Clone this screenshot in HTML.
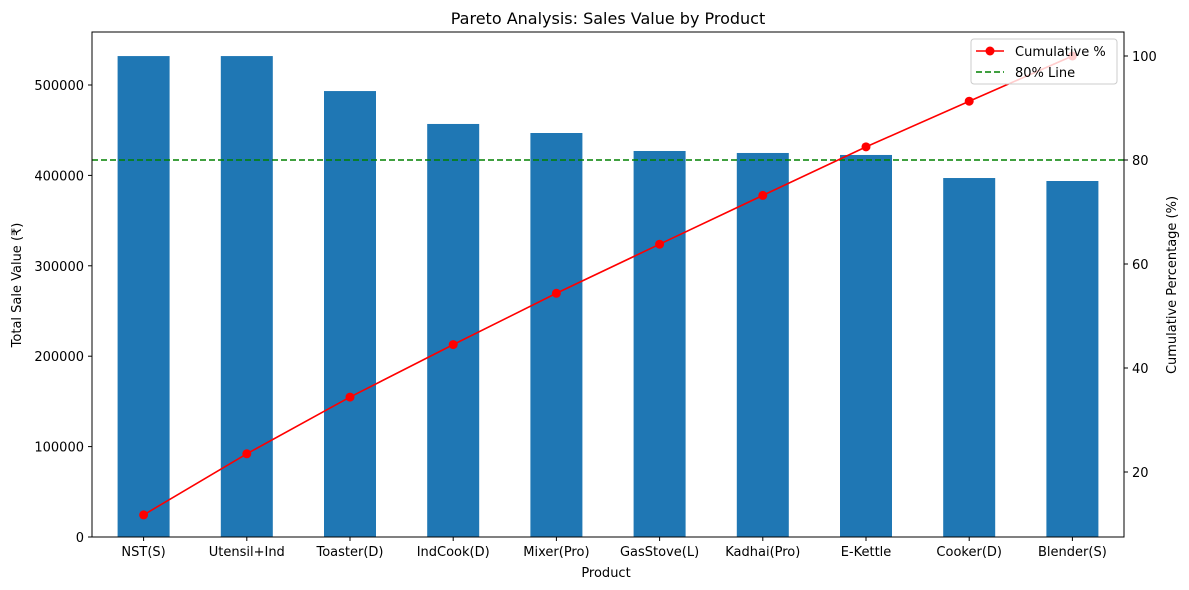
<!DOCTYPE html>
<html><head><meta charset="utf-8"><style>
body{margin:0;background:#fff;}
svg{display:block;font-family:"DejaVu Sans","Liberation Sans",sans-serif;}
</style></head><body>
<svg id="chart" width="1189" height="590" viewBox="0 0 1189 590">
<text x="608" y="24" text-anchor="middle" font-size="16">Pareto Analysis: Sales Value by Product</text>
<g id="bars"></g>
<g id="axes"></g>
<line x1="92" x2="1124" y1="160" y2="160" stroke="#008000" stroke-width="1.6" stroke-dasharray="6,3"/>
<g id="line"></g>
<rect x="92" y="32" width="1032" height="505" fill="none" stroke="#000" stroke-width="1"/>
<text x="606" y="577" text-anchor="middle" font-size="13">Product</text>
<text transform="translate(21,285) rotate(-90)" text-anchor="middle" font-size="13">Total Sale Value (₹)</text>
<text transform="translate(1176,285) rotate(-90)" text-anchor="middle" font-size="13">Cumulative Percentage (%)</text>
<g>
<rect x="971" y="39" width="146" height="45" rx="3" fill="#fff" fill-opacity="0.8" stroke="#ccc"/>
<g>
<line x1="976" x2="1004" y1="51" y2="51" stroke="red" stroke-width="1.6"/><circle cx="990" cy="51" r="4.5" fill="red"/>
<text x="1015" y="56" font-size="13">Cumulative %</text></g>
<g>
<line x1="976" x2="1004" y1="72" y2="72" stroke="#008000" stroke-width="1.6" stroke-dasharray="6,3"/>
<text x="1015" y="77" font-size="13">80% Line</text></g>
</g>
</svg>
<script>
const categories=["NST(S)","Utensil+Ind","Toaster(D)","IndCook(D)","Mixer(Pro)","GasStove(L)","Kadhai(Pro)","E-Kettle","Cooker(D)","Blender(S)"];
const salesValues=[532000,532000,493300,456900,446900,427000,424800,422600,397100,393800];
const leftTicks=[0,100000,200000,300000,400000,500000];
const rightTicks=[20,40,60,80,100];
const NS="http://www.w3.org/2000/svg";
const L=92,R=1124,T=32,B=537;
const step=(R-L)/categories.length;
function xC(i){return L+step*(i+0.5);}
function yL(v){return B-v*(B-85)/500000;}
function yR(p){return 56+(100-p)*5.2;}
function mk(tag,attrs,parent){const e=document.createElementNS(NS,tag);for(const k in attrs)e.setAttribute(k,attrs[k]);parent.appendChild(e);return e;}
const bars=document.getElementById('bars'),axes=document.getElementById('axes'),line=document.getElementById('line');
const total=salesValues.reduce((a,b)=>a+b,0);
let cum=0;const pts=[];
categories.forEach((c,i)=>{
  const r=mk('rect',{x:xC(i)-26,y:yL(salesValues[i]),width:52,height:B-yL(salesValues[i]),fill:'#1f77b4'},bars);
  
  
  mk('line',{x1:xC(i),x2:xC(i),y1:B,y2:B+4,stroke:'#000'},axes);
  const t=mk('text',{x:xC(i),y:B+19,'text-anchor':'middle','font-size':13},axes);t.textContent=c;
  
  
  cum+=salesValues[i];pts.push([xC(i),yR(cum/total*100)]);
});
leftTicks.forEach(v=>{
  mk('line',{x1:L-4,x2:L,y1:yL(v),y2:yL(v),stroke:'#000'},axes);
  const t=mk('text',{x:L-8,y:yL(v)+5,'text-anchor':'end','font-size':13},axes);t.textContent=v;
  
  
});
rightTicks.forEach(v=>{
  mk('line',{x1:R,x2:R+4,y1:yR(v),y2:yR(v),stroke:'#000'},axes);
  const t=mk('text',{x:R+8,y:yR(v)+5,'font-size':13},axes);t.textContent=v;
  
  
});
mk('polyline',{points:pts.map(p=>p.join(',')).join(' '),fill:'none',stroke:'red','stroke-width':1.6},line);
pts.forEach((p,i)=>{
  const c=mk('circle',{cx:p[0],cy:p[1],r:4.5,fill:'red'},line);
  
  
});
</script>
</body></html>
